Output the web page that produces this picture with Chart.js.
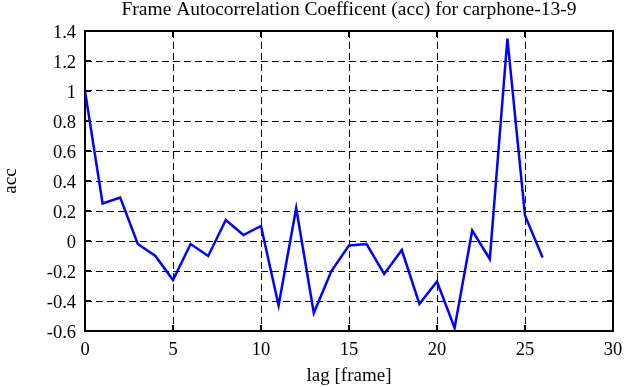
<!DOCTYPE html>
<html>
<head>
<meta charset="utf-8">
<script src="https://cdn.jsdelivr.net/npm/chart.js@4"></script>
<style>
  body { margin: 0; background: #fff; }
  #box { width: 641px; height: 387px; }
</style>
</head>
<body>
<div id="box"><canvas id="grafico" width="641" height="387"></canvas></div>
<script>
// dados
var lags = [0, 1, 2, 3, 4, 5, 6, 7, 8, 9, 10, 11, 12, 13, 14, 15, 16, 17, 18, 19, 20, 21, 22, 23, 24, 25, 26];
var acc = [1.0, 0.25, 0.29, -0.02, -0.1, -0.26, -0.02, -0.1, 0.14, 0.04, 0.1, -0.43, 0.22, -0.48, -0.2,
           -0.03, -0.02, -0.22, -0.06, -0.42, -0.27, -0.58, 0.07, -0.12, 1.35, 0.17, -0.11];
var xTicks = [0, 5, 10, 15, 20, 25, 30];
var yTicks = [-0.6, -0.4, -0.2, 0, 0.2, 0.4, 0.6, 0.8, 1, 1.2, 1.4];
var yTickLabels = ["-0.6", "-0.4", "-0.2", "0", "0.2", "0.4", "0.6", "0.8", "1", "1.2", "1.4"];

var pontos = [];
for (var i = 0; i < lags.length; i++) {
  pontos.push({ x: lags[i], y: acc[i] });
}

Chart.defaults.font.family = "'Liberation Serif', 'DejaVu Serif', serif";
Chart.defaults.color = "#000";

// moldura e marcas de escala para dentro
var moldura = {
  id: "moldura",
  beforeDatasetsDraw: function(chart) {
    var ctx = chart.ctx;
    var a = chart.chartArea;
    var sx = chart.scales.x;
    var sy = chart.scales.y;
    ctx.save();
    ctx.strokeStyle = "#000";
    ctx.lineWidth = 2;
    ctx.setLineDash([]);
    ctx.beginPath();
    xTicks.forEach(function(v) {
      var px = sx.getPixelForValue(v);
      ctx.moveTo(px, a.bottom); ctx.lineTo(px, a.bottom - 6);
      ctx.moveTo(px, a.top); ctx.lineTo(px, a.top + 6);
    });
    yTicks.forEach(function(v) {
      var py = sy.getPixelForValue(v);
      ctx.moveTo(a.left, py); ctx.lineTo(a.left + 6, py);
      ctx.moveTo(a.right, py); ctx.lineTo(a.right - 6, py);
    });
    ctx.stroke();
    ctx.strokeRect(a.left, a.top, a.right - a.left, a.bottom - a.top);
    ctx.restore();
  }
};

var grafico = new Chart(document.getElementById("grafico"), {
  type: "line",
  data: {
    datasets: [{
      label: "acc",
      data: pontos,
      borderColor: "#0000ff",
      borderWidth: 2.5,
      pointRadius: 0,
      fill: false,
      tension: 0
    }]
  },
  options: {
    responsive: false,
    animation: false,
    layout: { padding: { left: 0, right: 28, top: 0, bottom: 0 } },
    plugins: {
      legend: { display: false },
      tooltip: { enabled: false },
      title: {
        display: true,
        fullSize: false,
        text: "Frame Autocorrelation Coefficent (acc) for carphone-13-9",
        font: { size: 19.5, weight: "normal", lineHeight: 1 },
        padding: { top: 0, bottom: 11.5 },
        color: "#000"
      }
    },
    scales: {
      x: {
        type: "linear",
        min: 0,
        max: 30,
        afterBuildTicks: function(s) { s.ticks = xTicks.map(function(v) { return { value: v }; }); },
        afterFit: function(s) { s.height = 56; },
        ticks: { font: { size: 18.5 }, padding: 8, maxRotation: 0 },
        grid: { color: "#000", lineWidth: 1, drawTicks: false },
        border: { display: false, dash: [7, 4] },
        title: { display: true, text: "lag [frame]", font: { size: 19 }, padding: { top: 0, bottom: 0 } }
      },
      y: {
        min: -0.6,
        max: 1.4,
        afterBuildTicks: function(s) { s.ticks = yTicks.map(function(v) { return { value: v }; }); },
        afterFit: function(s) { s.width = 85; },
        ticks: {
          font: { size: 18.5 },
          padding: 9,
          labelOffset: 2,
          callback: function(v, idx) { return yTickLabels[idx]; }
        },
        grid: { color: "#000", lineWidth: 1, drawTicks: false },
        border: { display: false, dash: [7, 4] },
        title: { display: true, text: "acc", font: { size: 19 }, padding: { top: 0, bottom: 0 } }
      }
    }
  },
  plugins: [moldura]
});
</script>
</body>
</html>
